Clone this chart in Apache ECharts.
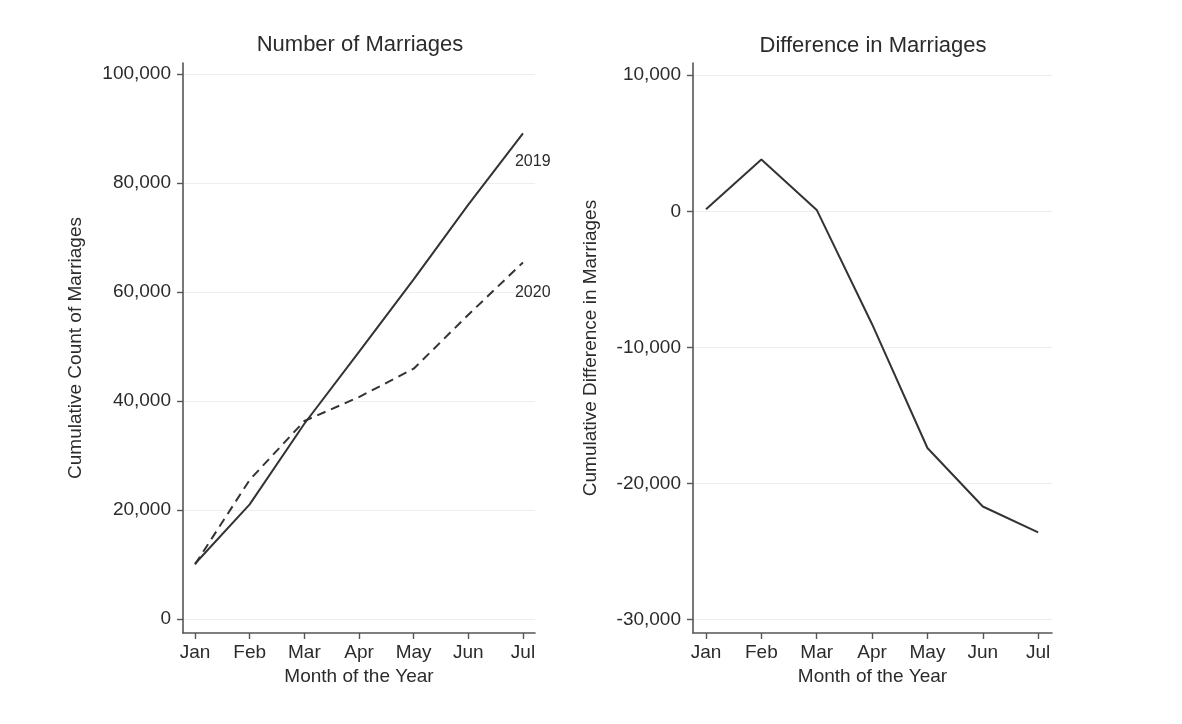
<!DOCTYPE html>
<html>
<head>
<meta charset="utf-8">
<script src="https://cdn.jsdelivr.net/npm/echarts@6/dist/echarts.min.js"></script>
<style>
html,body{margin:0;padding:0;background:#fff;}
#chart{width:1182px;height:724px;}
</style>
</head>
<body>
<div id="chart"></div>
<script>
const months = ['Jan', 'Feb', 'Mar', 'Apr', 'May', 'Jun', 'Jul'];
const count2019 = [10100, 21000, 35800, 49000, 62300, 76000, 89100];
const count2020 = [10000, 25500, 36300, 40700, 45900, 55800, 65400];
const difference = [150, 3800, 100, -8300, -17400, -21700, -23600];
const leftTicks = [0, 20000, 40000, 60000, 80000, 100000];
const rightTicks = [-30000, -20000, -10000, 0, 10000];
const monthTicks = [0, 1, 2, 3, 4, 5, 6];

const FONT = 'Liberation Sans';
const TXT = '#2b2b2b';
const AX = '#555555';

const fmt = v => Math.round(v).toLocaleString('en-US');
const pairs = arr => arr.map((v, i) => [i, v]);

function xAxis(gridIndex, min, max) {
  return {
    type: 'value', gridIndex, min, max,
    name: 'Month of the Year', nameLocation: 'middle', nameGap: 30,
    nameTextStyle: { fontFamily: FONT, fontSize: 19, color: TXT },
    axisLine: { show: true, onZero: false, lineStyle: { color: AX, width: 1.6 } },
    axisTick: { show: true, length: 6, lineStyle: { color: AX, width: 1.4 }, customValues: monthTicks },
    axisLabel: { customValues: monthTicks, margin: 10, fontFamily: FONT, fontSize: 19, color: TXT,
      formatter: v => months[Math.round(v)] },
    splitLine: { show: false }
  };
}
function yAxis(gridIndex, min, max, ticks, name, gap) {
  return {
    type: 'value', gridIndex, min, max,
    name, nameLocation: 'middle', nameGap: gap,
    nameTextStyle: { fontFamily: FONT, fontSize: 19, color: TXT },
    axisLine: { show: true, onZero: false, lineStyle: { color: AX, width: 1.6 } },
    axisTick: { show: true, length: 6, lineStyle: { color: AX, width: 1.4 }, customValues: ticks },
    axisLabel: { customValues: ticks, margin: 12, fontFamily: FONT, fontSize: 19, color: TXT, formatter: fmt },
    splitLine: { show: true, lineStyle: { color: '#eeeeee', width: 1 } }
  };
}

const chart = echarts.init(document.getElementById('chart'), null, { renderer: 'canvas' });
chart.setOption({
  animation: false,
  backgroundColor: '#ffffff',
  title: [
    { text: 'Number of Marriages', left: 355, top: 29, textAlign: 'center',
      textStyle: { fontFamily: FONT, fontSize: 22, fontWeight: 'normal', color: TXT } },
    { text: 'Difference in Marriages', left: 868, top: 30, textAlign: 'center',
      textStyle: { fontFamily: FONT, fontSize: 22, fontWeight: 'normal', color: TXT } }
  ],
  grid: [
    { left: 183, top: 63, width: 352, bottom: 91 },
    { left: 693, top: 63, width: 359, bottom: 91 }
  ],
  xAxis: [ xAxis(0, -0.22, 6.22), xAxis(1, -0.235, 6.25) ],
  yAxis: [
    yAxis(0, -2600, 102000, leftTicks, 'Cumulative Count of Marriages', 98),
    yAxis(1, -31000, 10900, rightTicks, 'Cumulative Difference in Marriages', 93)
  ],
  series: [
    { type: 'line', xAxisIndex: 0, yAxisIndex: 0, data: pairs(count2019), showSymbol: false,
      lineStyle: { color: '#333333', width: 2 },
      endLabel: { show: true, formatter: '2019', offset: [-16, 28], fontFamily: FONT, fontSize: 16, color: TXT } },
    { type: 'line', xAxisIndex: 0, yAxisIndex: 0, data: pairs(count2020), showSymbol: false,
      lineStyle: { color: '#333333', width: 2, type: [9, 6] },
      endLabel: { show: true, formatter: '2020', offset: [-16, 30], fontFamily: FONT, fontSize: 16, color: TXT } },
    { type: 'line', xAxisIndex: 1, yAxisIndex: 1, data: pairs(difference), showSymbol: false,
      lineStyle: { color: '#333333', width: 2 } }
  ]
});
</script>
</body>
</html>
